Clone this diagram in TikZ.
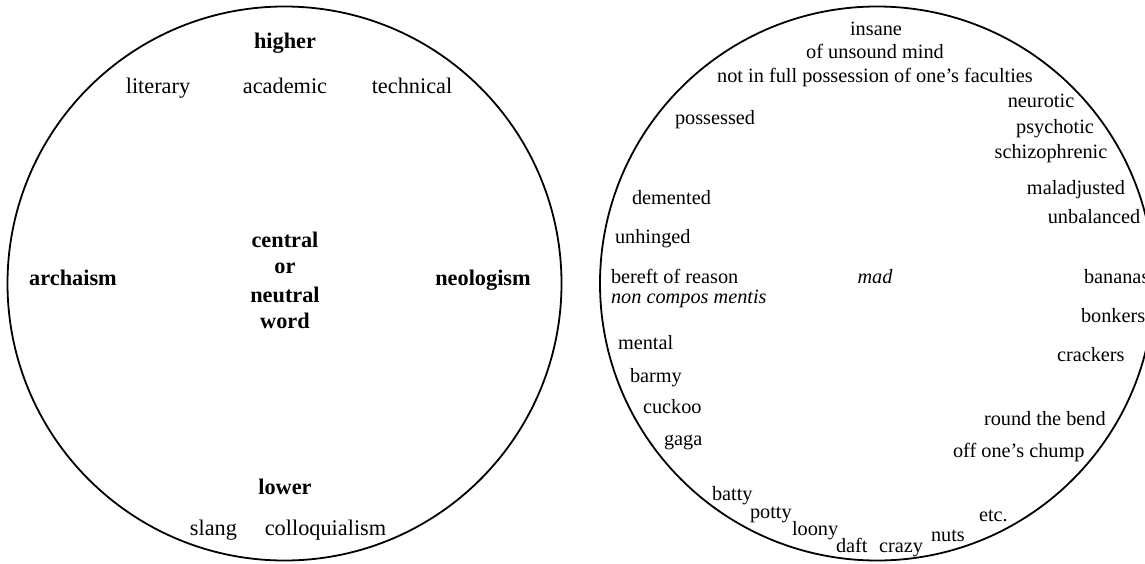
\documentclass[tikz,border=0pt]{standalone}
\usepackage{fontspec}
\setmainfont{Liberation Serif}
\begin{document}
\begin{tikzpicture}[x=0.5pt,y=-0.5pt,
  ring/.style={draw=black,line width=0.9pt},
  lw/.style={inner sep=0pt,outer sep=0pt,font=\fontsize{11.15}{13}\selectfont},
  lb/.style={lw,font=\fontsize{11.15}{13}\selectfont\bfseries},
  rw/.style={inner sep=0pt,outer sep=0pt,font=\fontsize{10.15}{12}\selectfont},
  ri/.style={rw,font=\fontsize{10.15}{12}\selectfont\itshape}]
\useasboundingbox (0,0) rectangle (1145,563);
% circles
\draw[ring] (284.5,283.5) circle[radius=138.5pt];
\draw[ring] (877,283.5) circle[radius=138.5pt];
% left circle
\node[lb,anchor=base] (higher) at (285,48) {higher};
\node[lw,anchor=base] (literary) at (158,93) {literary};
\node[lw,anchor=base] (academic) at (285,93) {academic};
\node[lw,anchor=base] (technical) at (412,93) {technical};
\node[lb,anchor=base] (central) at (285,247) {central};
\node[lb,anchor=base] (or) at (285,273) {or};
\node[lb,anchor=base] (neutral) at (285,302) {neutral};
\node[lb,anchor=base] (word) at (285,328) {word};
\node[lb,anchor=base] (archaism) at (73,285) {archaism};
\node[lb,anchor=base] (neologism) at (483,285) {neologism};
\node[lb,anchor=base] (lower) at (285,494) {lower};
\node[lw,anchor=base] (slang) at (213.5,535) {slang};
\node[lw,anchor=base] (colloq) at (325.5,535) {colloquialism};
% right circle
\node[rw,anchor=base] (insane) at (876,35) {insane};
\node[rw,anchor=base] (unsound) at (875,58) {of unsound mind};
\node[rw,anchor=base] (notfull) at (875,82) {not in full possession of one’s faculties};
\node[rw,anchor=base] (neurotic) at (1041,107) {neurotic};
\node[rw,anchor=base west] (possessed) at (675,124) {possessed};
\node[rw,anchor=base] (psychotic) at (1055,133) {psychotic};
\node[rw,anchor=base] (schizo) at (1051,158) {schizophrenic};
\node[rw,anchor=base] (maladj) at (1076,194) {maladjusted};
\node[rw,anchor=base west] (demented) at (632,204) {demented};
\node[rw,anchor=base] (unbal) at (1094,223) {unbalanced};
\node[rw,anchor=base west] (unhinged) at (615,243) {unhinged};
\node[rw,anchor=base west] (bereft) at (611,283) {bereft of reason};
\node[ri,anchor=base] (mad) at (875,283) {mad};
\node[rw,anchor=base west] (bananas) at (1084,283) {bananas};
\node[ri,anchor=base west] (noncompos) at (611,303) {non compos mentis};
\node[rw,anchor=base west] (bonkers) at (1081,322) {bonkers};
\node[rw,anchor=base west] (mental) at (618,349) {mental};
\node[rw,anchor=base west] (crackers) at (1057,361) {crackers};
\node[rw,anchor=base west] (barmy) at (630,382) {barmy};
\node[rw,anchor=base west] (cuckoo) at (643,413) {cuckoo};
\node[rw,anchor=base west] (roundbend) at (984,425) {round the bend};
\node[rw,anchor=base west] (gaga) at (664,445) {gaga};
\node[rw,anchor=base west] (chump) at (953,457) {off one’s chump};
\node[rw,anchor=base west] (batty) at (712,500) {batty};
\node[rw,anchor=base west] (potty) at (750,518) {potty};
\node[rw,anchor=base west] (etc) at (979,521) {etc.};
\node[rw,anchor=base west] (loony) at (792,535) {loony};
\node[rw,anchor=base west] (nuts) at (931,541) {nuts};
\node[rw,anchor=base west] (daft) at (836,552) {daft};
\node[rw,anchor=base west] (crazy) at (879,552) {crazy};
\end{tikzpicture}
\end{document}
